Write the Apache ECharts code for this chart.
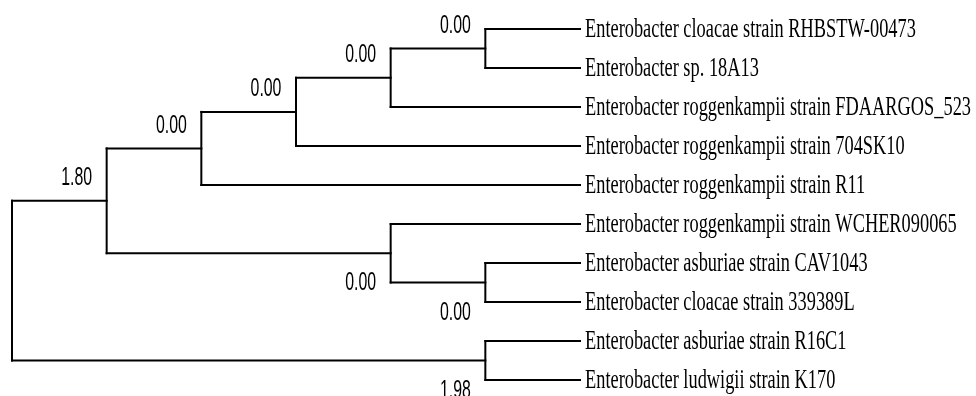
<!DOCTYPE html>
<html>
<head>
<meta charset="utf-8">
<script src="https://cdn.jsdelivr.net/npm/echarts@6/dist/echarts.min.js"></script>
<style>
html,body{margin:0;padding:0;background:#fff;}
#chart{width:976px;height:396px;}
</style>
</head>
<body>
<div id="chart"></div>
<script>
// Leaves, top to bottom
const leafNames = [
  'Enterobacter cloacae strain RHBSTW-00473',
  'Enterobacter sp. 18A13',
  'Enterobacter roggenkampii strain FDAARGOS_523',
  'Enterobacter roggenkampii strain 704SK10',
  'Enterobacter roggenkampii strain R11',
  'Enterobacter roggenkampii strain WCHER090065',
  'Enterobacter asburiae strain CAV1043',
  'Enterobacter cloacae strain 339389L',
  'Enterobacter asburiae strain R16C1',
  'Enterobacter ludwigii strain K170'
];
const leafDepth = 6;
// Internal nodes
const nodeNames = ['root', 'A', 'B', 'C', 'D', 'E', 'F', 'G', 'H'];
const nodeDepth = [0, 1, 2, 3, 4, 5, 4, 5, 5];
const nodeChildren = [['A', 'H'], ['B', 'F'], ['C', 4], ['D', 3], ['E', 2], [0, 1], [5, 'G'], [6, 7], [8, 9]];
const nodeSupport = ['', '1.80', '0.00', '0.00', '0.00', '0.00', '0.00', '0.00', '1.98'];

// Build tree geometry in data units
function nodeIndex(id) { return nodeNames.indexOf(id); }
function childPos(c) {
  if (typeof c === 'number') return { d: leafDepth, y: c };
  const i = nodeIndex(c);
  return { d: nodeDepth[i], y: nodeY(i) };
}
function nodeY(i) {
  const ys = nodeChildren[i].map(c => childPos(c).y);
  return (ys[0] + ys[ys.length - 1]) / 2;
}
const branchSegs = [];
const supportData = [];
nodeNames.forEach((n, i) => {
  const kids = nodeChildren[i].map(childPos);
  const d = nodeDepth[i];
  branchSegs.push([d, kids[0].y, d, kids[kids.length - 1].y]);
  kids.forEach(k => branchSegs.push([d, k.y, k.d, k.y]));
});
nodeNames.forEach((n, i) => {
  if (!nodeSupport[i]) return;
  // which side: first child of its parent -> above, otherwise below
  let side = 1;
  nodeChildren.forEach(ch => { if (ch.indexOf(n) === 0) side = -1; });
  supportData.push([nodeDepth[i], nodeY(i), nodeSupport[i], side]);
});
const leafData = leafNames.map((name, i) => [leafDepth, i, name]);

const chart = echarts.init(document.getElementById('chart'));
chart.setOption({
  animation: false,
  backgroundColor: '#ffffff',
  grid: { left: 12, right: 396, top: 29, bottom: 16 },
  xAxis: { type: 'value', min: 0, max: 6, show: false },
  yAxis: { type: 'value', min: 0, max: 9, inverse: true, show: false },
  series: [
    {
      type: 'custom',
      data: branchSegs,
      renderItem: function (params, api) {
        const p1 = api.coord([api.value(0), api.value(1)]);
        const p2 = api.coord([api.value(2), api.value(3)]);
        return {
          type: 'line',
          shape: { x1: p1[0], y1: p1[1], x2: p2[0], y2: p2[1] },
          style: { stroke: '#000', lineWidth: 2, lineCap: 'square' }
        };
      }
    },
    {
      type: 'custom',
      data: leafData,
      renderItem: function (params, api) {
        const p = api.coord([api.value(0), api.value(1)]);
        return {
          type: 'text',
          x: p[0] + 5,
          y: p[1] + 1,
          scaleX: 0.68,
          style: {
            text: leafData[params.dataIndex][2],
            fontFamily: 'Liberation Serif',
            fontSize: 27,
            fill: '#000',
            align: 'left',
            verticalAlign: 'middle'
          }
        };
      }
    },
    {
      type: 'custom',
      data: supportData,
      renderItem: function (params, api) {
        const p = api.coord([api.value(0), api.value(1)]);
        const side = supportData[params.dataIndex][3];
        return {
          type: 'text',
          x: p[0] - 30,
          y: p[1] + (side < 0 ? -23 : 30),
          scaleX: 0.61,
          style: {
            text: supportData[params.dataIndex][2],
            fontFamily: 'Liberation Sans',
            fontSize: 26,
            fill: '#000',
            align: 'center',
            verticalAlign: 'middle'
          }
        };
      }
    }
  ]
});
</script>
</body>
</html>
